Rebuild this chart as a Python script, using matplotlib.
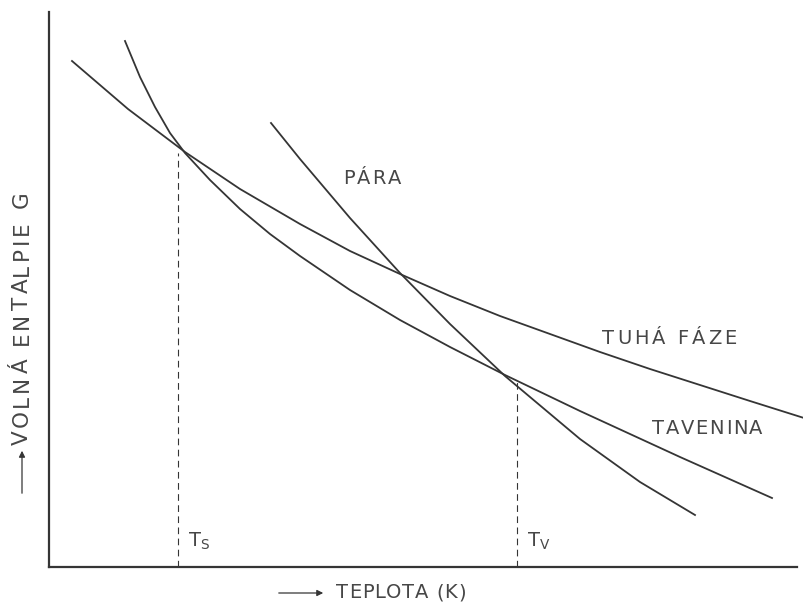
import matplotlib.pyplot as plt
from matplotlib.patches import FancyArrowPatch
from matplotlib.font_manager import FontProperties
from matplotlib.textpath import TextToPath
from matplotlib.transforms import offset_copy

# G(T) curves for the three phases, in plot units
# (x = temperature, y = free enthalpy, both arbitrary)
solid_T = [23, 79, 136, 191, 251, 301, 351, 401, 451, 501, 551, 601, 651, 701, 755]
solid_G = [506, 458, 415, 378, 343, 316, 293, 271, 251, 233, 215, 198, 182, 166, 149]

melt_T = [76, 91, 106, 121, 136, 161, 191, 221, 251, 301, 351, 401, 456, 531, 631, 723]
melt_G = [526, 490, 460, 434, 414, 387, 358, 333, 311, 277, 247, 220, 192, 156, 110, 69]

vapor_T = [222, 251, 301, 351, 401, 456, 531, 591, 646]
vapor_G = [444, 408, 349, 294, 243, 191, 128, 85, 52]

# transition temperatures (sublimation / boiling) and G at those points
T_s, G_s = 129, 414
T_v, G_v = 468, 186

phase_labels = ["PÁRA", "TUHÁ FÁZE", "TAVENINA"]
x_label = "TEPLOTA (K)"
y_label = "VOLNÁ ENTALPIE G"

ink = "#353535"
txt_color = "#474747"
fig = plt.figure(figsize=(8.04, 6.02), dpi=100)
ax = fig.add_axes([49 / 804, 35 / 602, 748 / 804, 555 / 602])
ax.set_xlim(0, 748)
ax.set_ylim(0, 555)

ttp = TextToPath()


def tracked(x, y, s, size, track, trans, rotation=0):
    """Write s starting at (x, y) with extra letter spacing (points)."""
    prop = FontProperties(family="DejaVu Sans", size=size)
    d = 0.0
    dx, dy = (0, 1) if rotation == 90 else (1, 0)
    for c in s:
        t = offset_copy(trans, fig=fig, x=d * dx, y=d * dy, units="points")
        fig.text(x, y, c, fontproperties=prop, color=txt_color, transform=t,
                 ha="left", va="center", rotation=rotation, rotation_mode="anchor")
        w = ttp.get_text_width_height_descent(c, prop, ismath=False)[0]
        d += w + track


lw = 1.3
ax.plot(solid_T, solid_G, color=ink, lw=lw, clip_on=False)
ax.plot(melt_T, melt_G, color=ink, lw=lw)
ax.plot(vapor_T, vapor_G, color=ink, lw=lw)

ax.plot([T_s, T_s], [0, G_s], color=ink, lw=0.8, ls=(0, (6, 4)))
ax.plot([T_v, T_v], [0, G_v], color=ink, lw=0.8, ls=(0, (6, 4)))

txt = dict(color=txt_color, fontsize=14, family="DejaVu Sans")
ax.text(T_s + 10, 26, "T$_\\mathregular{S}$", ha="left", va="center", **txt)
ax.text(T_v + 10, 26, "T$_\\mathregular{V}$", ha="left", va="center", **txt)

# phase names, placed in pixel units of the figure
px = fig.transFigure
tracked(343 / 804, 1 - 178 / 602, phase_labels[0], 14, 1.4, px)
tracked(602 / 804, 1 - 338 / 602, phase_labels[1], 14, 2.2, px)
tracked(652 / 804, 1 - 428 / 602, phase_labels[2], 14, 1.2, px)

for s in ["top", "right"]:
    ax.spines[s].set_visible(False)
for s in ["left", "bottom"]:
    ax.spines[s].set_color(ink)
    ax.spines[s].set_linewidth(1.6)
ax.set_xticks([])
ax.set_yticks([])

# axis captions with their arrows
tracked(336 / 804, 1 - 593 / 602, x_label, 14, 0.6, px)
tracked(22 / 804, 1 - 445 / 602, y_label, 15.5, 2.2, px, rotation=90)
arrow = dict(arrowstyle="-|>", color=ink, lw=0.9, mutation_scale=9)
fig.add_artist(FancyArrowPatch((276 / 804, 1 - 593 / 602), (326 / 804, 1 - 593 / 602),
                               transform=px, **arrow))
fig.add_artist(FancyArrowPatch((22 / 804, 1 - 496 / 602), (22 / 804, 1 - 448 / 602),
                               transform=px, **arrow))

fig.savefig("out.png", dpi=100)
